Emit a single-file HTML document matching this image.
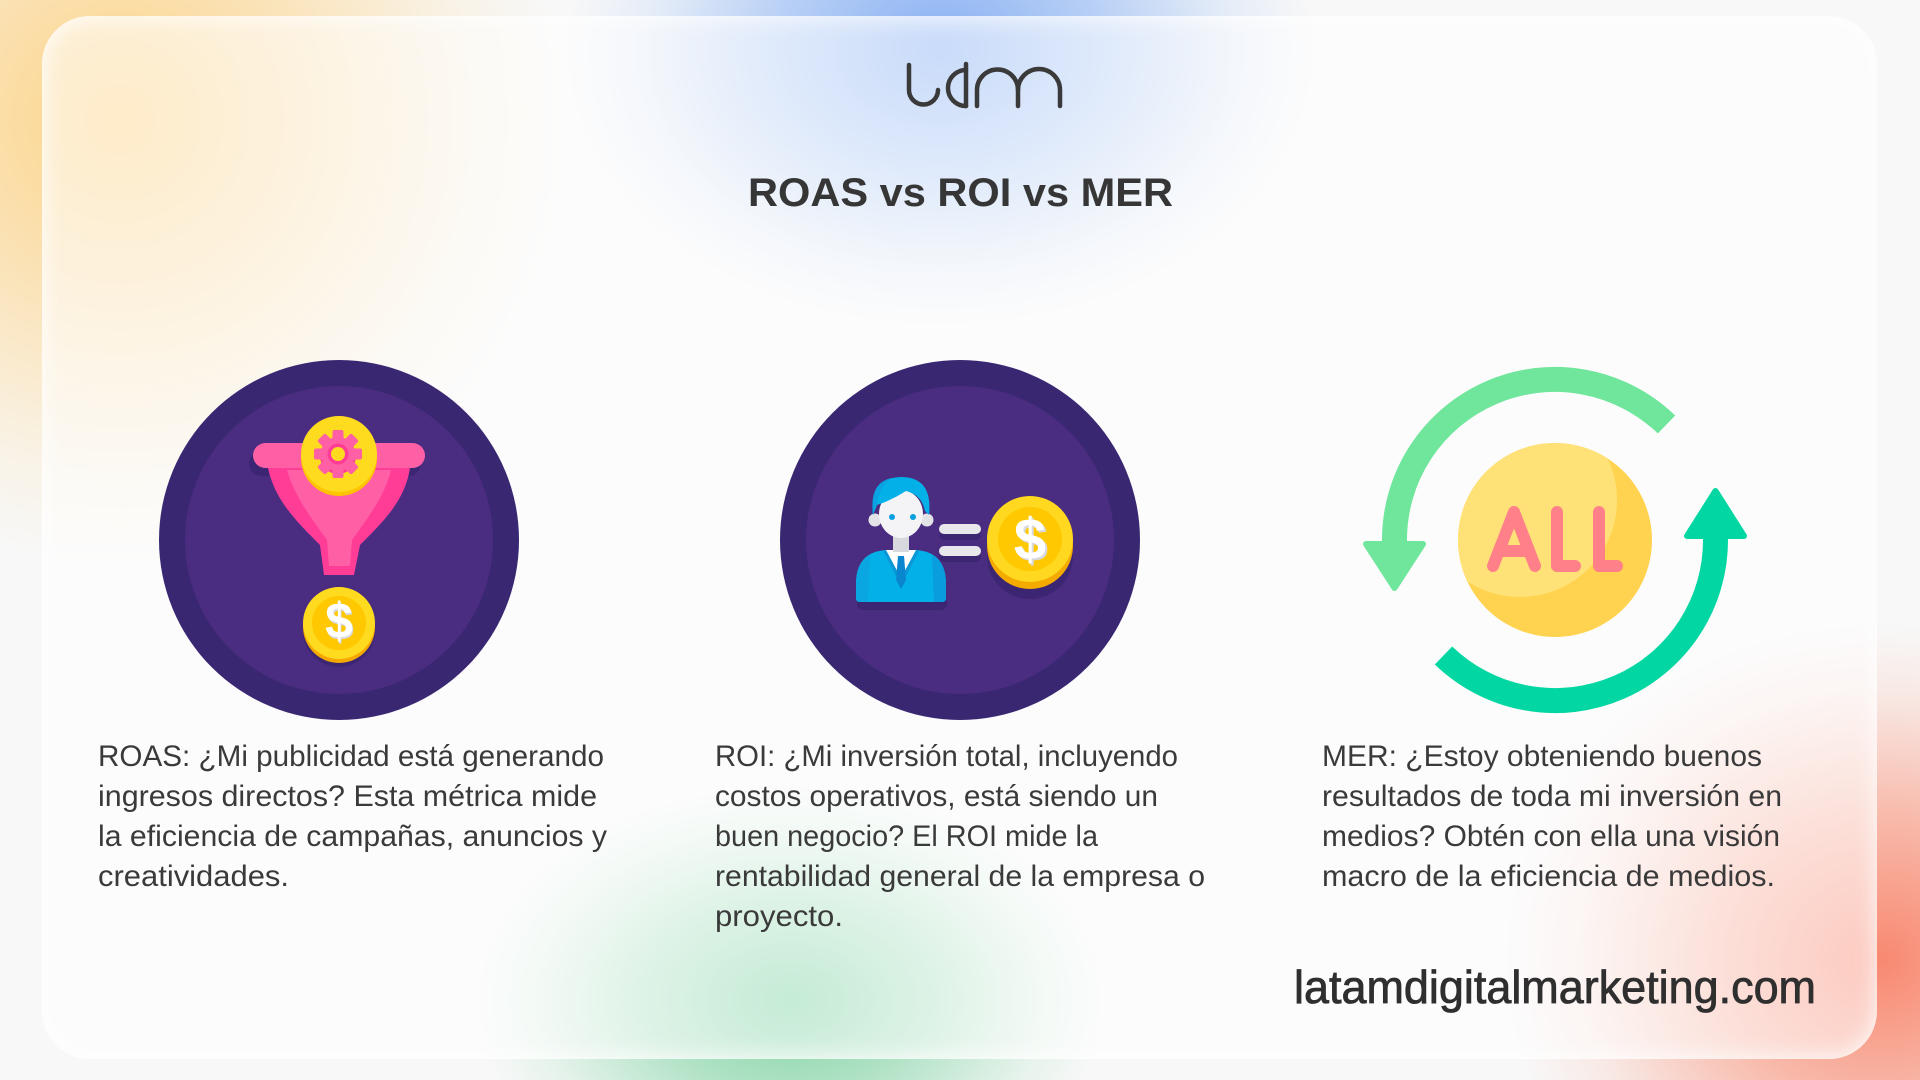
<!DOCTYPE html>
<html>
<head>
<meta charset="utf-8">
<style>
  html,body{margin:0;padding:0;width:1920px;height:1080px;overflow:hidden;}
  body{background:#f8f8f8;font-family:"Liberation Sans",sans-serif;}
  #page{position:relative;width:1920px;height:1080px;overflow:hidden;
    background:
      radial-gradient(circle 445px at 120px 120px, rgba(252,210,130,0.95) 0%, rgba(252,214,145,0.6) 43%, rgba(252,220,160,0.2) 79%, rgba(252,220,160,0) 100%),
      radial-gradient(ellipse 376px 277px at 940px 50px, rgba(130,172,242,0.95) 0%, rgba(140,180,244,0.6) 43%, rgba(160,195,246,0.2) 79%, rgba(160,195,246,0) 100%),
      radial-gradient(ellipse 317px 218px at 790px 1000px, rgba(120,208,158,0.95) 0%, rgba(130,212,165,0.6) 43%, rgba(150,220,180,0.2) 79%, rgba(150,220,180,0) 100%),
      radial-gradient(ellipse 376px 337px at 1880px 960px, rgba(248,130,105,0.95) 0%, rgba(248,145,120,0.6) 43%, rgba(250,170,150,0.2) 79%, rgba(250,170,150,0) 100%),
      #f8f8f8;}
  #card{position:absolute;left:42px;top:16px;width:1835px;height:1043px;border-radius:48px;background:rgba(255,255,255,0.55);box-shadow:inset 0 0 24px rgba(255,255,255,0.95);}
  svg{position:absolute;left:0;top:0;display:block;}
</style>
</head>
<body>
<div id="page">
<div id="card"></div>

<svg width="1920" height="1080" viewBox="0 0 1920 1080" xmlns="http://www.w3.org/2000/svg">
  <!-- Logo udm -->
  <g fill="none" stroke="#3a3a3a" stroke-width="4.5" stroke-linecap="round">
    <path d="M909 65 V90 A14.5 14.5 0 0 0 938 90"/>
    <path d="M966 64 V106"/>
    <path d="M966 70 A18 18 0 0 0 966 106"/>
    <path d="M977 106 V90 A20.5 20.5 0 0 1 1018 90 V106"/>
    <path d="M1018 90 A21 21 0 0 1 1060 90 V106"/>
  </g>

  <!-- Title -->
  <text x="748" y="206" font-family="Liberation Sans, sans-serif" font-weight="700" font-size="40" fill="#363636" textLength="425" lengthAdjust="spacingAndGlyphs">ROAS vs ROI vs MER</text>

  <!-- ===== Circle 1 : funnel ===== -->
  <circle cx="339" cy="540" r="180" fill="#3a2772"/>
  <circle cx="339" cy="540" r="154" fill="#4a2c80"/>
  <rect x="249" y="451" width="172" height="25" rx="12.5" fill="#3c2673"/>
  <circle cx="339" cy="631" r="36" fill="#3c2673"/>
  <path d="M268 468 C275 500 295 520 320 545 L324 575 L354 575 L360 545 C385 520 405 500 410 468 Z" fill="#ff3d97"/>
  <path d="M287 470 L391 470 C385 495 370 515 352 540 L350 566 L329 566 L327 540 C309 515 294 495 287 470 Z" fill="#ff5fa4"/>
  <rect x="253" y="443" width="172" height="25" rx="12.5" fill="#ff5fa4"/>
  <circle cx="339" cy="458" r="38" fill="#ffc400"/>
  <circle cx="339" cy="454" r="38" fill="#ffdb1f"/>
  <g transform="translate(338 454)">
    <g fill="#ff3d97" transform="translate(0 2)">
      <circle r="18"/>
    </g>
    <g fill="#ff5fa4">
      <circle r="17"/>
      <rect x="-5.5" y="-24" width="11" height="12" rx="2"/>
      <rect x="-5.5" y="-24" width="11" height="12" rx="2" transform="rotate(45)"/>
      <rect x="-5.5" y="-24" width="11" height="12" rx="2" transform="rotate(90)"/>
      <rect x="-5.5" y="-24" width="11" height="12" rx="2" transform="rotate(135)"/>
      <rect x="-5.5" y="-24" width="11" height="12" rx="2" transform="rotate(180)"/>
      <rect x="-5.5" y="-24" width="11" height="12" rx="2" transform="rotate(225)"/>
      <rect x="-5.5" y="-24" width="11" height="12" rx="2" transform="rotate(270)"/>
      <rect x="-5.5" y="-24" width="11" height="12" rx="2" transform="rotate(315)"/>
    </g>
    <circle r="10.5" fill="#ff3d97"/>
    <circle r="7" fill="#ffdb1f"/>
  </g>
  <circle cx="339" cy="627" r="36" fill="#f5a800"/>
  <circle cx="339" cy="623" r="36" fill="#ffdb1f"/>
  <circle cx="339" cy="623" r="27" fill="#ffc800"/>
  <text x="340" y="640" text-anchor="middle" font-family="Liberation Sans, sans-serif" font-weight="700" font-size="50" fill="#d9d9df">$</text>
  <text x="339" y="638" text-anchor="middle" font-family="Liberation Sans, sans-serif" font-weight="700" font-size="50" fill="#ffffff">$</text>

  <!-- ===== Circle 2 : person = coin ===== -->
  <circle cx="960" cy="540" r="180" fill="#3a2772"/>
  <circle cx="960" cy="540" r="154" fill="#4a2c80"/>
  <rect x="857" y="596" width="90" height="14" rx="6" fill="#3c2673"/>
  <rect x="939" y="530" width="42" height="10" rx="5" fill="#3c2673"/>
  <rect x="939" y="552" width="42" height="10" rx="5" fill="#3c2673"/>
  <circle cx="1030" cy="556" r="43" fill="#3c2673"/>
  <path d="M856 598 V584 Q856 552 886 550 L916 550 Q946 552 946 584 V598 Q946 602 942 602 L860 602 Q856 602 856 598 Z" fill="#03b1e8"/>
  <path d="M932 556 Q946 562 946 584 V598 Q946 602 942 602 L934 602 Z" fill="#0a9ddd"/>
  <path d="M870 556 Q856 562 856 584 V598 Q856 602 860 602 L868 602 Z" fill="#0aa6e2"/>
  <path d="M883 551 L901 586 L919 551 L913 550 L901 572 L889 550 Z" fill="#0a97d8"/>
  <polygon points="886,550 916,550 901,578" fill="#ffffff"/>
  <polygon points="898,556 904,556 906,580 901,589 896,580" fill="#0a86d0"/>
  <rect x="893" y="533" width="16" height="19" fill="#d8d9df"/>
  <circle cx="875" cy="520" r="6.5" fill="#e2e2e7"/>
  <circle cx="927" cy="520" r="6.5" fill="#e2e2e7"/>
  <ellipse cx="901" cy="514" rx="22" ry="24" fill="#f4f4f7"/>
  <path d="M873 515 Q869 478 901 477 Q933 477 929 515 L925 511 Q922 495 906 491 Q892 500 877 505 Z" fill="#03b1e8"/>
  <path d="M873 515 Q869 482 892 478 Q878 488 877 505 Z" fill="#0aa2e0"/>
  <circle cx="892" cy="517" r="3" fill="#0aa0e0"/>
  <circle cx="913" cy="517" r="3" fill="#0aa0e0"/>
  <rect x="939" y="524" width="42" height="10" rx="5" fill="#e7e7ec"/>
  <rect x="939" y="546" width="42" height="10" rx="5" fill="#e7e7ec"/>
  <circle cx="1030" cy="546" r="43" fill="#f5aa00"/>
  <circle cx="1030" cy="539" r="43" fill="#ffd81f"/>
  <circle cx="1030" cy="539" r="32" fill="#ffc800"/>
  <text x="1032" y="561" text-anchor="middle" font-family="Liberation Sans, sans-serif" font-weight="700" font-size="58" fill="#d9d9df">$</text>
  <text x="1030" y="559" text-anchor="middle" font-family="Liberation Sans, sans-serif" font-weight="700" font-size="58" fill="#ffffff">$</text>

  <!-- ===== MER icon ===== -->
  <defs>
    <clipPath id="yc"><circle cx="1555" cy="540" r="97"/></clipPath>
  </defs>
  <circle cx="1555" cy="540" r="97" fill="#ffd34f"/>
  <circle cx="1520" cy="500" r="97" fill="#ffe277" clip-path="url(#yc)"/>
  <g fill="none" stroke="#ff8089" stroke-width="12" stroke-linecap="round" stroke-linejoin="round">
    <path d="M1493 566 L1514 512 L1535 566"/>
    <path d="M1503 551 L1526 551"/>
    <path d="M1557 512 V566 H1575"/>
    <path d="M1599 512 V566 H1617"/>
  </g>
  <path d="M1666.5 424.5 A160.5 160.5 0 0 0 1394.5 542" fill="none" stroke="#6fe69b" stroke-width="25"/>
  <polygon points="1366,544 1423,544 1394.5,588" fill="#6fe69b" stroke="#6fe69b" stroke-width="6" stroke-linejoin="round"/>
  <path d="M1443.5 655.5 A160.5 160.5 0 0 0 1715.5 538" fill="none" stroke="#02d6a2" stroke-width="25"/>
  <polygon points="1687,536 1744,536 1715.5,491" fill="#02d6a2" stroke="#02d6a2" stroke-width="6" stroke-linejoin="round"/>

  <!-- ===== Body text ===== -->
  <g font-family="Liberation Sans, sans-serif" font-size="30" fill="#3a3a3a">
    <text x="98" y="766" textLength="506" lengthAdjust="spacingAndGlyphs">ROAS: ¿Mi publicidad está generando</text>
    <text x="98" y="806" textLength="499" lengthAdjust="spacingAndGlyphs">ingresos directos? Esta métrica mide</text>
    <text x="98" y="846" textLength="509" lengthAdjust="spacingAndGlyphs">la eficiencia de campañas, anuncios y</text>
    <text x="98" y="886" textLength="191" lengthAdjust="spacingAndGlyphs">creatividades.</text>

    <text x="715" y="766" textLength="463" lengthAdjust="spacingAndGlyphs">ROI: ¿Mi inversión total, incluyendo</text>
    <text x="715" y="806" textLength="443" lengthAdjust="spacingAndGlyphs">costos operativos, está siendo un</text>
    <text x="715" y="846" textLength="383" lengthAdjust="spacingAndGlyphs">buen negocio? El ROI mide la</text>
    <text x="715" y="886" textLength="490" lengthAdjust="spacingAndGlyphs">rentabilidad general de la empresa o</text>
    <text x="715" y="926" textLength="128" lengthAdjust="spacingAndGlyphs">proyecto.</text>

    <text x="1322" y="766" textLength="440" lengthAdjust="spacingAndGlyphs">MER: ¿Estoy obteniendo buenos</text>
    <text x="1322" y="806" textLength="460" lengthAdjust="spacingAndGlyphs">resultados de toda mi inversión en</text>
    <text x="1322" y="846" textLength="458" lengthAdjust="spacingAndGlyphs">medios? Obtén con ella una visión</text>
    <text x="1322" y="886" textLength="453" lengthAdjust="spacingAndGlyphs">macro de la eficiencia de medios.</text>
  </g>

  <text x="1294" y="1003" font-family="Liberation Sans, sans-serif" font-size="46" fill="#2f2f2f" stroke="#2f2f2f" stroke-width="0.8" textLength="522" lengthAdjust="spacingAndGlyphs">latamdigitalmarketing.com</text>
</svg>
</div>
</body>
</html>
